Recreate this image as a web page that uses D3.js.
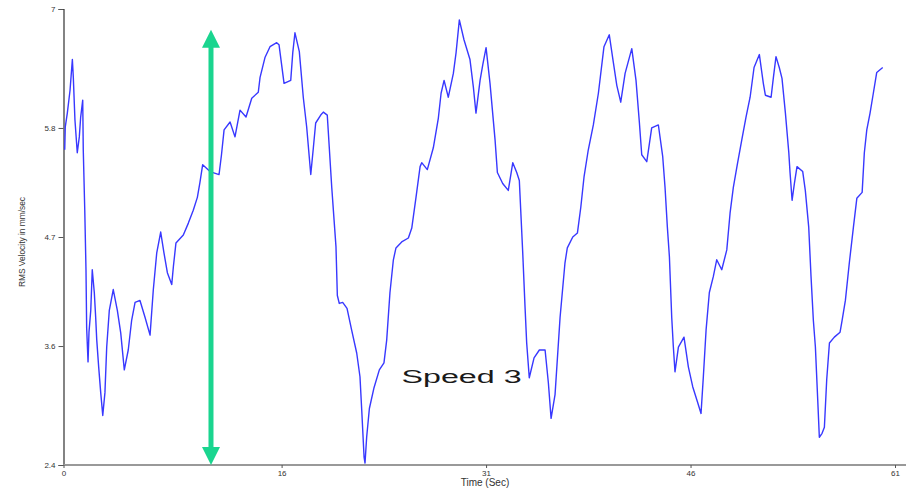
<!DOCTYPE html>
<html><head><meta charset="utf-8">
<script src="https://cdn.jsdelivr.net/npm/d3@7"></script>
<style>html,body{margin:0;padding:0;background:#fff;overflow:hidden}svg{display:block}</style>
</head><body>
<svg id="chart" width="906" height="491"></svg>
<script>
// ---- data ----
const timeSec = [0.09,0.13,0.28,0.48,0.65,0.72,0.84,1.01,1.16,1.26,1.41,1.45,1.56,1.65,1.70,1.80,1.87,2.00,2.11,2.26,2.36,2.44,2.58,2.73,2.88,3.04,3.17,3.36,3.65,3.95,4.20,4.46,4.75,5.00,5.25,5.61,5.98,6.35,6.59,6.84,7.13,7.37,7.62,7.94,8.06,8.25,8.79,9.16,9.52,9.82,10.01,10.21,10.75,11.41,11.59,11.78,12.22,12.58,12.95,13.39,13.81,14.29,14.42,14.78,15.15,15.64,15.81,16.18,16.67,16.82,16.98,17.30,17.59,17.84,18.14,18.33,18.50,18.87,19.06,19.35,19.68,19.85,19.99,20.09,20.23,20.48,20.80,21.14,21.51,21.75,21.88,22.05,22.12,22.24,22.44,22.78,23.17,23.51,23.71,23.95,24.20,24.39,24.81,25.30,25.55,25.86,26.16,26.28,26.69,27.13,27.50,27.70,27.92,28.23,28.60,28.80,29.04,29.38,29.82,30.07,30.26,30.56,30.76,31.00,31.29,31.66,31.83,32.22,32.63,32.96,33.25,33.44,33.69,33.86,33.98,34.17,34.52,34.91,35.33,35.57,35.77,36.06,36.43,36.79,36.96,37.36,37.70,37.95,38.19,38.50,38.87,39.24,39.65,40.04,40.34,40.59,40.88,41.20,41.69,42.00,42.25,42.42,42.79,43.15,43.64,43.96,44.13,44.30,44.45,44.62,44.74,44.86,45.11,45.52,45.84,46.16,46.50,46.77,46.94,47.14,47.38,47.67,47.92,48.29,48.66,48.90,49.14,49.43,49.76,50.07,50.37,50.66,51.05,51.34,51.49,51.91,52.08,52.27,52.51,52.71,52.96,53.21,53.30,53.45,53.62,53.81,54.23,54.42,54.67,54.84,55.01,55.16,55.33,55.45,55.65,55.82,55.99,56.19,56.55,56.97,57.12,57.36,57.65,57.95,58.20,58.59,58.75,58.93,59.17,59.41,59.66,60.10];
const rmsVelocity = [5.58,5.81,5.95,6.18,6.49,6.31,5.88,5.55,5.71,5.91,6.08,5.58,4.97,4.37,3.78,3.44,3.74,3.96,4.37,4.14,3.89,3.66,3.39,3.13,2.90,3.13,3.59,3.96,4.17,3.96,3.73,3.36,3.56,3.86,4.04,4.06,3.89,3.71,4.17,4.54,4.75,4.54,4.34,4.22,4.40,4.64,4.72,4.84,4.97,5.10,5.25,5.43,5.36,5.33,5.53,5.78,5.86,5.71,5.98,5.91,6.10,6.16,6.31,6.51,6.62,6.66,6.64,6.25,6.28,6.56,6.76,6.57,6.11,5.81,5.33,5.60,5.85,5.93,5.96,5.93,5.20,4.87,4.60,4.11,4.03,4.04,3.98,3.76,3.53,3.29,2.95,2.48,2.42,2.68,2.97,3.18,3.36,3.43,3.66,4.14,4.47,4.59,4.65,4.69,4.79,5.10,5.41,5.45,5.38,5.60,5.90,6.15,6.28,6.11,6.35,6.56,6.89,6.69,6.49,6.21,5.95,6.28,6.44,6.61,6.25,5.68,5.35,5.24,5.17,5.45,5.35,5.27,4.54,3.99,3.63,3.28,3.48,3.56,3.56,3.23,2.87,3.11,3.89,4.44,4.59,4.70,4.74,5.00,5.31,5.58,5.83,6.15,6.62,6.74,6.46,6.23,6.06,6.35,6.60,6.28,5.85,5.53,5.46,5.80,5.83,5.51,5.20,4.80,4.50,3.89,3.59,3.34,3.59,3.69,3.39,3.19,3.04,2.92,3.29,3.76,4.14,4.30,4.47,4.37,4.57,4.94,5.20,5.43,5.68,5.91,6.11,6.41,6.54,6.25,6.13,6.11,6.31,6.52,6.41,6.30,5.95,5.55,5.35,5.07,5.24,5.41,5.36,5.17,4.80,4.30,3.86,3.59,3.06,2.68,2.72,2.78,3.26,3.63,3.69,3.74,3.86,4.06,4.44,4.80,5.09,5.15,5.55,5.78,5.95,6.15,6.36,6.41];
const xTicks = [0, 16, 31, 46, 61];
const yTicks = [2.4, 3.6, 4.7, 5.8, 7];
const yTickLabels = ["2.4", "3.6", "4.7", "5.8", "7"];
const xTitle = "Time (Sec)";
const yTitle = "RMS Velocity in mm/sec";
const annotationText = "Speed 3";
const arrowTime = 10.82, arrowTop = 6.79, arrowBottom = 2.4;
const labelTime = 24.8, labelValue = 3.23;

// ---- chart ----
const svg = d3.select("#chart");
const x = d3.scaleLinear().domain([0, 61]).range([63.5, 895]);
const y = d3.scaleLinear().domain([2.4, 7]).range([465, 9]);
const font = "Arial, 'Liberation Sans', sans-serif";

// y axis
const yAxis = svg.append("g").attr("transform", `translate(${x(0)},0)`)
  .call(d3.axisLeft(y).tickValues(yTicks).tickFormat((d,i)=>yTickLabels[i]).tickSize(5).tickPadding(3));
yAxis.select(".domain").attr("stroke", "#333").attr("stroke-width", 1.2);
yAxis.selectAll(".tick line").attr("stroke", "#555");
yAxis.selectAll("text").attr("font-family", font).attr("font-size", 8).attr("fill", "#333");

// x axis
const xAxis = svg.append("g").attr("transform", `translate(0,${y(2.4)})`)
  .call(d3.axisBottom(x).tickValues(xTicks).tickFormat(d3.format("d")).tickSize(3).tickPadding(2).tickSizeOuter(0));
xAxis.select(".domain").attr("d", `M${x(0)},0H906`).attr("stroke", "#999").attr("stroke-width", 2);
xAxis.selectAll(".tick line").attr("stroke", "#555");
xAxis.selectAll("text").attr("font-family", font).attr("font-size", 8).attr("fill", "#333");

// titles
svg.append("text").attr("x", 485).attr("y", 486).attr("text-anchor", "middle")
  .attr("font-family", font).attr("font-size", 10).attr("fill", "#333").text(xTitle);
svg.append("text").attr("transform", "translate(25,242) rotate(-90)").attr("text-anchor", "middle")
  .attr("font-family", font).attr("font-size", 9).attr("fill", "#333")
  .attr("textLength", 90).attr("lengthAdjust", "spacingAndGlyphs").text(yTitle);

// line
const pts = timeSec.map((t,i)=>[t, rmsVelocity[i]]);
svg.append("path").datum(pts)
  .attr("fill", "none").attr("stroke", "#3838ff").attr("stroke-width", 1.4).attr("stroke-linejoin", "round")
  .attr("d", d3.line().x(d=>x(d[0])).y(d=>y(d[1])));

// arrow annotation
const green = "#1ad58f";
const ax = x(arrowTime), ay1 = y(arrowTop), ay2 = y(arrowBottom);
svg.append("line").attr("x1", ax).attr("x2", ax).attr("y1", ay1 + 14).attr("y2", ay2 - 14)
  .attr("stroke", green).attr("stroke-width", 5);
svg.append("path").attr("fill", green)
  .attr("d", `M${ax},${ay1}L${ax-9},${ay1+18}L${ax+9},${ay1+18}Z`);
svg.append("path").attr("fill", green)
  .attr("d", `M${ax},${ay2}L${ax-9},${ay2-18}L${ax+9},${ay2-18}Z`);

// label
svg.append("text").attr("x", x(labelTime)).attr("y", y(labelValue))
  .attr("font-family", font).attr("font-size", 18).attr("fill", "#1a1a1a")
  .attr("textLength", 120).attr("lengthAdjust", "spacingAndGlyphs").text(annotationText);
</script>
</body></html>
